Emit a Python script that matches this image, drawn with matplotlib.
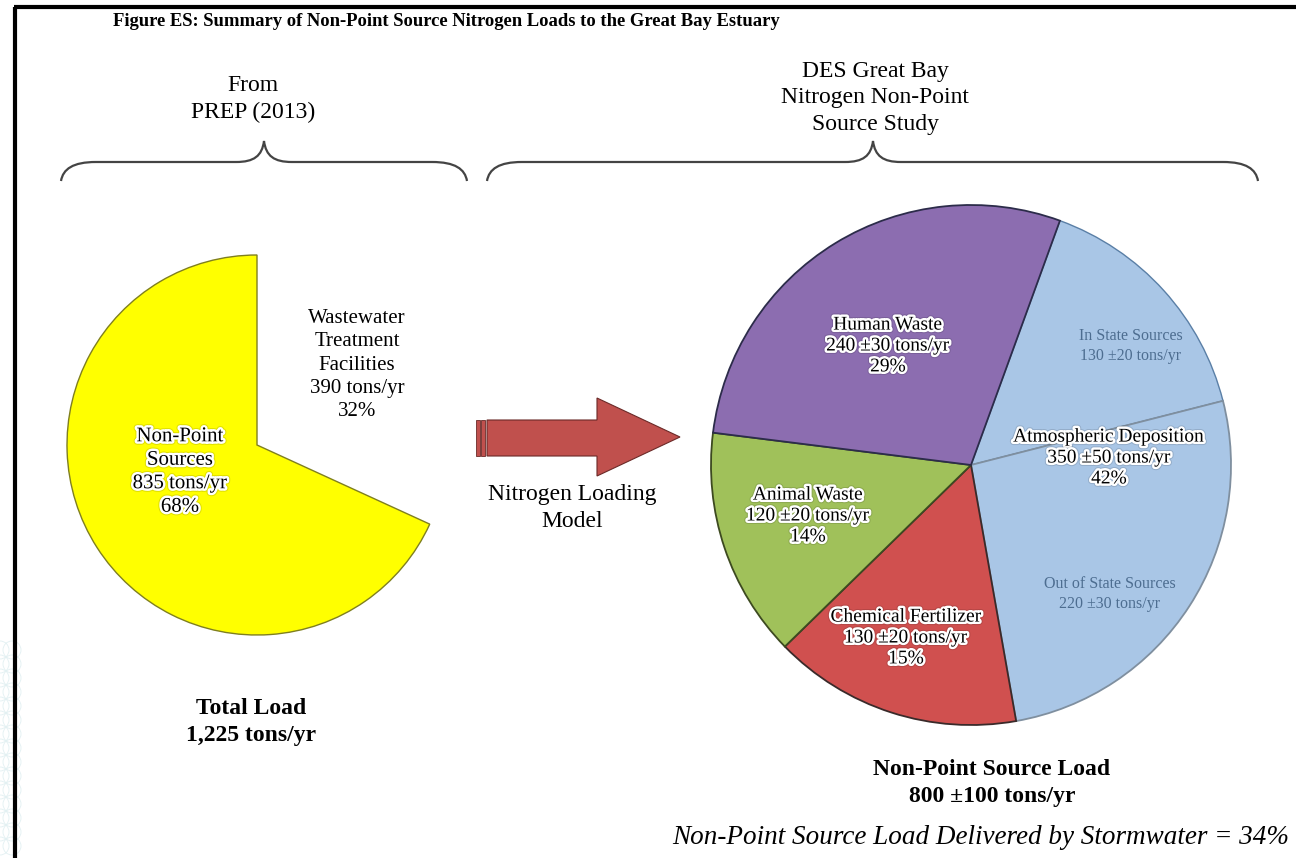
import matplotlib.pyplot as plt
import matplotlib.patches as mpatches
import matplotlib.patheffects as pe
from matplotlib.path import Path

# PREP (2013) total load split, tons/yr
prep_labels = ['Wastewater Treatment Facilities', 'Non-Point Sources']
prep_loads = [390, 835]
prep_pct = [32, 68]

# DES study non-point source load, tons/yr (atmospheric split in-state / out-of-state)
des_labels = ['In State Sources', 'Out of State Sources', 'Chemical Fertilizer',
              'Animal Waste', 'Human Waste']
des_loads = [130, 220, 130, 120, 240]
des_err = [20, 30, 20, 20, 30]
atm_load, atm_err, atm_pct = 350, 50, 42
des_pct = {'Chemical Fertilizer': 15, 'Animal Waste': 14, 'Human Waste': 29}

W, H = 1296, 858
SERIF = ['Liberation Serif', 'DejaVu Serif']
plt.rcParams['font.family'] = SERIF


def Y(y):
    # image rows run downward, axes run upward
    return H - y


fig = plt.figure(figsize=(12.96, 8.58), dpi=100)
ax = fig.add_axes([0, 0, 1, 1])

glow = [pe.withStroke(linewidth=5, foreground=(0, 0, 0, 0.12)),
        pe.withStroke(linewidth=3.5, foreground='white')]

# left pie
w1, _ = ax.pie(prep_loads, colors=['none', '#FFFF00'], startangle=90,
               counterclock=False, center=(257, Y(445)), radius=190,
               wedgeprops=dict(linewidth=1.0))
w1[0].set_edgecolor('none')
w1[1].set_edgecolor('#7f7f1f')

# right pie
des_colors = ['#A9C6E6', '#A9C6E6', '#D0504F', '#A0C15A', '#8C6DB0']
w2, _ = ax.pie(des_loads, colors=des_colors, startangle=70, counterclock=False,
               center=(971, Y(465)), radius=260, wedgeprops=dict(linewidth=1.3))
for w, c in zip(w2, ['#5a7fa6', '#7f8f9f', '#3a2a2a', '#3d4a20', '#2c2c4a']):
    w.set_edgecolor(c)
w2[0].set_linewidth(1.0)

ax.set_xlim(0, W)
ax.set_ylim(0, H)
ax.set_aspect('equal')
ax.axis('off')

# frame
ax.plot([14, W], [Y(7), Y(7)], color='black', lw=3, solid_capstyle='butt')
ax.plot([14.5, 14.5], [Y(7), 0], color='black', lw=3, solid_capstyle='butt')

# faint pattern outside the frame, bottom left
for yy in range(650, 860, 14):
    for xx in (0, 12):
        ax.add_patch(mpatches.Circle((xx, Y(yy)), 9, fill=False, ec='#e2f0f2', lw=0.6))


def brace(x0, x1, xt, ye, ym, yt):
    verts = [(x0, ye), (x0 + 2, ye - 12), (x0 + 12, ym), (x0 + 35, ym),
             (xt - 28, ym),
             (xt - 10, ym), (xt - 2, ym - 6), (xt, yt),
             (xt + 2, ym - 6), (xt + 10, ym), (xt + 28, ym),
             (x1 - 35, ym),
             (x1 - 12, ym), (x1 - 2, ye - 12), (x1, ye)]
    codes = [Path.MOVETO, Path.CURVE4, Path.CURVE4, Path.CURVE4,
             Path.LINETO,
             Path.CURVE4, Path.CURVE4, Path.CURVE4,
             Path.CURVE4, Path.CURVE4, Path.CURVE4,
             Path.LINETO,
             Path.CURVE4, Path.CURVE4, Path.CURVE4]
    verts = [(x, Y(y)) for x, y in verts]
    ax.add_patch(mpatches.PathPatch(Path(verts, codes), fill=False, ec='#444444', lw=1.6))


brace(61, 467, 264, 181, 162, 141)
brace(487, 1258, 873, 181, 162, 141)

# arrow
arrow = [(487, 420), (597, 420), (597, 398), (680, 437), (597, 476), (597, 456), (487, 456)]
ax.add_patch(mpatches.Polygon([(x, Y(y)) for x, y in arrow], closed=True,
                              fc='#C0504D', ec='#6b2a28', lw=0.8))
for x0 in (476, 481):
    ax.add_patch(mpatches.Rectangle((x0, Y(456)), 3.5, 36, fc='#C0504D', ec='#6b2a28', lw=0.6))

# texts
ax.text(113, Y(22), 'Figure ES: Summary of Non-Point Source Nitrogen Loads to the Great Bay Estuary',
        fontsize=13.4, fontweight='bold', ha='left', va='center')
ax.text(253, Y(99), 'From\nPREP (2013)', fontsize=17, ha='center', va='center', linespacing=1.4)
ax.text(875, Y(98), 'DES Great Bay\nNitrogen Non-Point\nSource Study', fontsize=17,
        ha='center', va='center', linespacing=1.33)

ax.text(357, Y(365), 'Wastewater\nTreatment\nFacilities\n%d tons/yr\n%d%%' % (prep_loads[0], prep_pct[0]),
        fontsize=15, ha='center', va='center', linespacing=1.32)
ax.text(180, Y(472), 'Non-Point\nSources\n%d tons/yr\n%d%%' % (prep_loads[1], prep_pct[1]),
        fontsize=15, ha='center', va='center', linespacing=1.32, path_effects=glow)
ax.text(251, Y(722), 'Total Load\n{:,} tons/yr'.format(sum(prep_loads)), fontsize=17,
        fontweight='bold', ha='center', va='center', linespacing=1.42)

ax.text(572, Y(508), 'Nitrogen Loading\nModel', fontsize=17, ha='center', va='center', linespacing=1.36)

ax.text(888, Y(346), 'Human Waste\n%d \u00b1%d tons/yr\n%d%%' % (des_loads[4], des_err[4], des_pct['Human Waste']),
        fontsize=14, ha='center', va='center', linespacing=1.3, path_effects=glow)
ax.text(808, Y(516), 'Animal Waste\n%d \u00b1%d tons/yr\n%d%%' % (des_loads[3], des_err[3], des_pct['Animal Waste']),
        fontsize=14, ha='center', va='center', linespacing=1.3, path_effects=glow)
ax.text(906, Y(638), 'Chemical Fertilizer\n%d \u00b1%d tons/yr\n%d%%' % (des_loads[2], des_err[2], des_pct['Chemical Fertilizer']),
        fontsize=14, ha='center', va='center', linespacing=1.3, path_effects=glow)
ax.text(1109, Y(458), 'Atmospheric Deposition\n%d \u00b1%d tons/yr\n%d%%' % (atm_load, atm_err, atm_pct),
        fontsize=14, ha='center', va='center', linespacing=1.3, path_effects=glow)
ax.text(1131, Y(346), 'In State Sources\n%d \u00b1%d tons/yr' % (des_loads[0], des_err[0]),
        fontsize=11.5, ha='center', va='center', linespacing=1.3, color='#4d6d90')
ax.text(1110, Y(594), 'Out of State Sources\n%d \u00b1%d tons/yr' % (des_loads[1], des_err[1]),
        fontsize=11.5, ha='center', va='center', linespacing=1.3, color='#4d6d90')

ax.text(992, Y(783), 'Non-Point Source Load\n800 \u00b1100 tons/yr', fontsize=17,
        fontweight='bold', ha='center', va='center', linespacing=1.36)
ax.text(1289, Y(838), 'Non-Point Source Load Delivered by Stormwater = 34%', fontsize=19.5,
        fontstyle='italic', ha='right', va='center')

fig.savefig('out.png', dpi=100)
